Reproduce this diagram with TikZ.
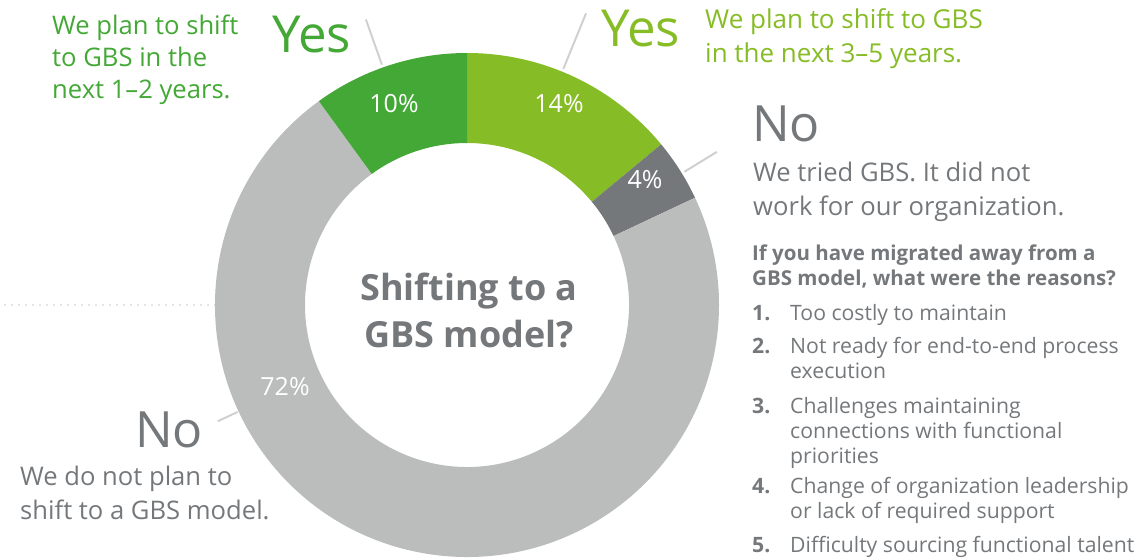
\documentclass[tikz,border=0pt]{standalone}
\usepackage{fontspec}
\setmainfont{Open Sans}
\usetikzlibrary{calc, positioning}

\definecolor{dgreen}{HTML}{43A835}
\definecolor{lgreen}{HTML}{86BC25}
\definecolor{dgray}{HTML}{75787B}
\definecolor{lgray}{HTML}{BBBCBC}
\definecolor{txtgray}{HTML}{75787B}
\definecolor{leadgray}{HTML}{D0D0CE}

\begin{document}
\begin{tikzpicture}[x=1pt, y=1pt]
\tikzset{
  bigword/.style={
    inner sep=0,
    anchor=base west,
    font=\fontsize{51}{51}\selectfont
  },
  % anchored at the baseline of the last line
  blurb/.style={
    inner sep=0,
    anchor=base west,
    align=left,
    font=\fontsize{25.6}{34}\selectfont
  },
  pct/.style={
    inner sep=0,
    text=white,
    font=\fontsize{25}{25}\selectfont
  },
  leader/.style={
    draw=leadgray,
    line width=2pt
  },
  reason/.style={
    blurb,
    text=txtgray,
    font=\fontsize{21.2}{25}\selectfont
  },
  num/.style={
    reason,
    font=\bfseries\fontsize{21.2}{25}\selectfont
  }
}
\useasboundingbox (0,0) rectangle (1148,-559);

% Dotted guide behind the ring
\coordinate (ctr) at (467,-305);
\coordinate (dotstart) at (5,-305);
\draw[lgray!80, line width=1.6pt, line cap=round, dash pattern=on 0pt off 7pt] (dotstart) -- ($(ctr)+(180:250)$);

% Ring segments
\foreach \from/\to/\col in {39.6/90/lgreen, 25.2/39.6/dgray, -234/25.2/lgray, 90/126/dgreen}{
  \fill[\col] ($(ctr)+(\from:252)$) arc[start angle=\from, end angle=\to, radius=252]
    -- ($(ctr)+(\to:162)$) arc[start angle=\to, end angle=\from, radius=162] -- cycle;
}

% Percent labels
\node[pct] (p10) at (394,-104) {10\%};
\node[pct] (p14) at (559,-104) {14\%};
\node[pct] (p4) at (645,-180) {4\%};
\node[pct] (p72) at (285,-387) {72\%};

% Centre question
\node[font=\bfseries\fontsize{36}{47}\selectfont, text=txtgray, align=center, inner sep=0] (title) at (469,-310) {Shifting to a\\GBS model?};

% Yes, 1-2 years
\node[bigword, text=dgreen] (yesA) at (272,-53) {Yes};
\node[blurb, text=dgreen, font=\fontsize{25.6}{32}\selectfont] (yesAtxt) at (52,-99) {We plan to shift\\to GBS in the\\next 1–2 years.};

% Yes, 3-5 years
\node[bigword, text=lgreen] (yesB) at (601,-47) {Yes};
\node[blurb, text=lgreen, font=\fontsize{26}{34}\selectfont] (yesBtxt) at (705,-63) {We plan to shift to GBS\\in the next 3–5 years.};

% No, tried it
\node[bigword, text=txtgray, font=\fontsize{50}{50}\selectfont] (noA) at (752,-142) {No};
\node[blurb, text=txtgray] (noAtxt) at (753,-215) {We tried GBS. It did not\\work for our organization.};

% No, no plans
\node[bigword, text=txtgray, font=\fontsize{50}{50}\selectfont] (noB) at (135,-447) {No};
\node[blurb, text=txtgray] (noBtxt) at (20,-519) {We do not plan to\\shift to a GBS model.};

% Leader lines
\coordinate (yesAend) at ($(ctr)+(109.5:255)$);
\coordinate (yesBend) at ($(ctr)+(67.8:255)$);
\coordinate (noAend) at ($(ctr)+(31.5:255)$);
\coordinate (noBend) at ($(ctr)+(205:253)$);
\draw[leader] ($(ctr)+(109.5:303)$) -- (yesAend);
\draw[leader] ($(ctr)+(67.8:315)$) -- (yesBend);
\draw[leader] ($(ctr)+(31.5:293)$) -- (noAend);
\draw[leader] ($(ctr)+(205:275)$) -- (noBend);

% Reasons list
\node[reason, font=\bfseries\fontsize{20.5}{25}\selectfont] (ask) at (752,-285) {If you have migrated away from a\\GBS model, what were the reasons?};
\node[reason] (r1) at (790,-320) {Too costly to maintain};
\node[reason] (r2) at (790,-378) {Not ready for end-to-end process\\execution};
\node[reason] (r3) at (790,-463) {Challenges maintaining\\connections with functional\\priorities};
\node[reason] (r4) at (790,-518) {Change of organization leadership\\or lack of required support};
\node[reason] (r5) at (790,-552) {Difficulty sourcing functional talent};
\node[num] (k1) at (r1.base west -| ask.west) {1.};
\node[num] (k2) at ($(r2.base west -| ask.west)+(0,25)$) {2.};
\node[num] (k3) at ($(r3.base west -| ask.west)+(0,50)$) {3.};
\node[num] (k4) at ($(r4.base west -| ask.west)+(0,25)$) {4.};
\node[num] (k5) at (r5.base west -| ask.west) {5.};

\end{tikzpicture}
\end{document}
